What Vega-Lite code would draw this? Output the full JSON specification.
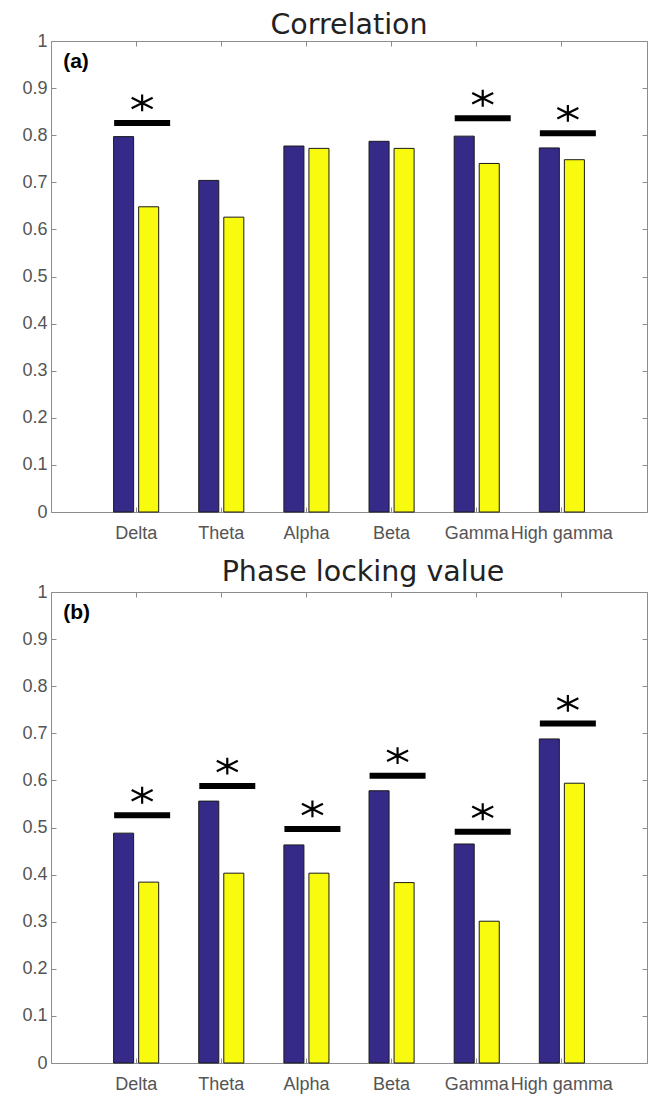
{
  "$schema": "https://vega.github.io/schema/vega-lite/v6.json",
  "padding": {"left": 5, "top": 10, "right": 2, "bottom": 2},
  "background": "white",
  "config": {
    "view": {"stroke": "#8c8c8c", "strokeWidth": 1},
    "axis": {"grid": false, "domainColor": "#8c8c8c", "tickColor": "#8c8c8c", "labelFont": "Liberation Sans", "labelColor": "#555555", "labelFontSize": 18, "title": null}
  },
  "datasets": {
    "bars": [
      {"panel": "a", "band": "Delta", "series": "Group 1", "value": 0.797},
      {"panel": "a", "band": "Delta", "series": "Group 2", "value": 0.648},
      {"panel": "a", "band": "Theta", "series": "Group 1", "value": 0.704},
      {"panel": "a", "band": "Theta", "series": "Group 2", "value": 0.626},
      {"panel": "a", "band": "Alpha", "series": "Group 1", "value": 0.777},
      {"panel": "a", "band": "Alpha", "series": "Group 2", "value": 0.772},
      {"panel": "a", "band": "Beta", "series": "Group 1", "value": 0.787},
      {"panel": "a", "band": "Beta", "series": "Group 2", "value": 0.772},
      {"panel": "a", "band": "Gamma", "series": "Group 1", "value": 0.798},
      {"panel": "a", "band": "Gamma", "series": "Group 2", "value": 0.740},
      {"panel": "a", "band": "High gamma", "series": "Group 1", "value": 0.773},
      {"panel": "a", "band": "High gamma", "series": "Group 2", "value": 0.748},
      {"panel": "b", "band": "Delta", "series": "Group 1", "value": 0.488},
      {"panel": "b", "band": "Delta", "series": "Group 2", "value": 0.384},
      {"panel": "b", "band": "Theta", "series": "Group 1", "value": 0.556},
      {"panel": "b", "band": "Theta", "series": "Group 2", "value": 0.403},
      {"panel": "b", "band": "Alpha", "series": "Group 1", "value": 0.463},
      {"panel": "b", "band": "Alpha", "series": "Group 2", "value": 0.403},
      {"panel": "b", "band": "Beta", "series": "Group 1", "value": 0.578},
      {"panel": "b", "band": "Beta", "series": "Group 2", "value": 0.383},
      {"panel": "b", "band": "Gamma", "series": "Group 1", "value": 0.465},
      {"panel": "b", "band": "Gamma", "series": "Group 2", "value": 0.301},
      {"panel": "b", "band": "High gamma", "series": "Group 1", "value": 0.688},
      {"panel": "b", "band": "High gamma", "series": "Group 2", "value": 0.594}
    ],
    "sig": [
      {"panel": "a", "band": "Delta", "level": 0.826},
      {"panel": "a", "band": "Gamma", "level": 0.836},
      {"panel": "a", "band": "High gamma", "level": 0.804},
      {"panel": "b", "band": "Delta", "level": 0.526},
      {"panel": "b", "band": "Theta", "level": 0.588},
      {"panel": "b", "band": "Alpha", "level": 0.497},
      {"panel": "b", "band": "Beta", "level": 0.610},
      {"panel": "b", "band": "Gamma", "level": 0.491},
      {"panel": "b", "band": "High gamma", "level": 0.721}
    ],
    "labels": [
      {"panel": "a", "band": "Delta", "text": "(a)"},
      {"panel": "b", "band": "Delta", "text": "(b)"}
    ]
  },
  "bounds": "flush",
  "spacing": 80,
  "vconcat": [
    {
      "width": 596,
      "height": 471,
      "title": {"text": "Correlation", "font": "DejaVu Sans", "fontSize": 28.5, "fontWeight": "normal", "color": "#222222", "anchor": "middle", "offset": -7},
      "layer": [
        {
          "data": {"name": "bars"},
          "transform": [{"filter": "datum.panel === 'a'"}],
          "mark": {"type": "bar", "stroke": "#1a1a1a", "strokeWidth": 1},
          "encoding": {
            "x": {"field": "band", "type": "nominal", "sort": null, "scale": {"domain": ["Delta", "Theta", "Alpha", "Beta", "Gamma", "High gamma"], "paddingInner": 0, "paddingOuter": 0.5}, "axis": {"orient": "bottom", "labelAngle": 0, "tickSize": -5, "labelPadding": 17, "domain": false}},
            "xOffset": {"field": "series", "type": "nominal", "scale": {"paddingInner": 0.2, "paddingOuter": 0.8}},
            "y": {"field": "value", "type": "quantitative", "scale": {"domain": [0, 1], "nice": false, "zero": true}, "axis": {"orient": "left", "values": [0, 0.1, 0.2, 0.3, 0.4, 0.5, 0.6, 0.7, 0.8, 0.9, 1], "format": ".1~f", "tickSize": -5, "labelPadding": 9, "minExtent": 45, "maxExtent": 45, "domain": false}},
            "color": {"field": "series", "type": "nominal", "scale": {"domain": ["Group 1", "Group 2"], "range": ["#352a87", "#f9fb0e"]}, "legend": null}
          }
        },
        {
          "data": {"name": "sig"},
          "transform": [{"filter": "datum.panel === 'a'"}],
          "mark": {"type": "tick", "color": "black", "size": 56, "thickness": 6, "opacity": 1, "xOffset": 6},
          "encoding": {
            "x": {"field": "band", "type": "nominal", "sort": null, "axis": {"orient": "top", "labels": false, "tickSize": -5, "domain": false, "minExtent": 0, "maxExtent": 0}},
            "y": {"field": "level", "type": "quantitative", "axis": {"orient": "right", "labels": false, "values": [0, 0.1, 0.2, 0.3, 0.4, 0.5, 0.6, 0.7, 0.8, 0.9, 1], "tickSize": -5, "domain": false, "minExtent": 0, "maxExtent": 0}}
          }
        },
        {
          "data": {"name": "sig"},
          "transform": [{"filter": "datum.panel === 'a'"}],
          "mark": {"type": "point", "shape": "M0,-0.8L0,0.8M-1,-0.5L1,0.5M-1,0.5L1,-0.5", "filled": false, "stroke": "black", "strokeWidth": 2.2, "size": 441, "opacity": 1, "xOffset": 6, "yOffset": -20},
          "encoding": {
            "x": {"field": "band", "type": "nominal", "sort": null, "axis": null},
            "y": {"field": "level", "type": "quantitative", "axis": null}
          }
        },
        {
          "data": {"name": "labels"},
          "transform": [{"filter": "datum.panel === 'a'"}],
          "mark": {"type": "text", "font": "Liberation Sans", "fontWeight": "bold", "fontSize": 21, "align": "left", "baseline": "alphabetic", "color": "black", "dx": -73},
          "encoding": {
            "x": {"field": "band", "type": "nominal", "sort": null, "axis": null},
            "y": {"datum": 0.943, "type": "quantitative", "axis": null},
            "text": {"field": "text"}
          }
        }
      ],
      "resolve": {"axis": {"x": "independent", "y": "independent"}}
    },
    {
      "width": 596,
      "height": 471,
      "title": {"text": "Phase locking value", "font": "DejaVu Sans", "fontSize": 28.5, "fontWeight": "normal", "color": "#222222", "anchor": "middle", "offset": -3, "dx": 14},
      "layer": [
        {
          "data": {"name": "bars"},
          "transform": [{"filter": "datum.panel === 'b'"}],
          "mark": {"type": "bar", "stroke": "#1a1a1a", "strokeWidth": 1},
          "encoding": {
            "x": {"field": "band", "type": "nominal", "sort": null, "scale": {"domain": ["Delta", "Theta", "Alpha", "Beta", "Gamma", "High gamma"], "paddingInner": 0, "paddingOuter": 0.5}, "axis": {"orient": "bottom", "labelAngle": 0, "tickSize": -5, "labelPadding": 17, "domain": false}},
            "xOffset": {"field": "series", "type": "nominal", "scale": {"paddingInner": 0.2, "paddingOuter": 0.8}},
            "y": {"field": "value", "type": "quantitative", "scale": {"domain": [0, 1], "nice": false, "zero": true}, "axis": {"orient": "left", "values": [0, 0.1, 0.2, 0.3, 0.4, 0.5, 0.6, 0.7, 0.8, 0.9, 1], "format": ".1~f", "tickSize": -5, "labelPadding": 9, "minExtent": 45, "maxExtent": 45, "domain": false}},
            "color": {"field": "series", "type": "nominal", "scale": {"domain": ["Group 1", "Group 2"], "range": ["#352a87", "#f9fb0e"]}, "legend": null}
          }
        },
        {
          "data": {"name": "sig"},
          "transform": [{"filter": "datum.panel === 'b'"}],
          "mark": {"type": "tick", "color": "black", "size": 56, "thickness": 6, "opacity": 1, "xOffset": 6},
          "encoding": {
            "x": {"field": "band", "type": "nominal", "sort": null, "axis": {"orient": "top", "labels": false, "tickSize": -5, "domain": false, "minExtent": 0, "maxExtent": 0}},
            "y": {"field": "level", "type": "quantitative", "axis": {"orient": "right", "labels": false, "values": [0, 0.1, 0.2, 0.3, 0.4, 0.5, 0.6, 0.7, 0.8, 0.9, 1], "tickSize": -5, "domain": false, "minExtent": 0, "maxExtent": 0}}
          }
        },
        {
          "data": {"name": "sig"},
          "transform": [{"filter": "datum.panel === 'b'"}],
          "mark": {"type": "point", "shape": "M0,-0.8L0,0.8M-1,-0.5L1,0.5M-1,0.5L1,-0.5", "filled": false, "stroke": "black", "strokeWidth": 2.2, "size": 441, "opacity": 1, "xOffset": 6, "yOffset": -20},
          "encoding": {
            "x": {"field": "band", "type": "nominal", "sort": null, "axis": null},
            "y": {"field": "level", "type": "quantitative", "axis": null}
          }
        },
        {
          "data": {"name": "labels"},
          "transform": [{"filter": "datum.panel === 'b'"}],
          "mark": {"type": "text", "font": "Liberation Sans", "fontWeight": "bold", "fontSize": 21, "align": "left", "baseline": "alphabetic", "color": "black", "dx": -73},
          "encoding": {
            "x": {"field": "band", "type": "nominal", "sort": null, "axis": null},
            "y": {"datum": 0.943, "type": "quantitative", "axis": null},
            "text": {"field": "text"}
          }
        }
      ],
      "resolve": {"axis": {"x": "independent", "y": "independent"}}
    }
  ]
}
